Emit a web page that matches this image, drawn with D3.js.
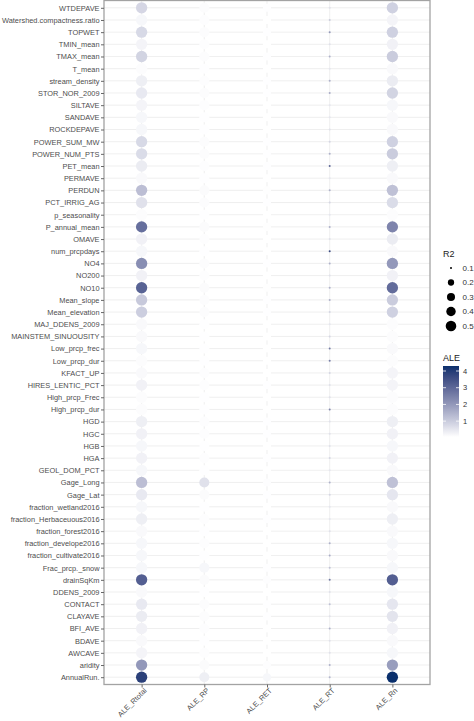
<!DOCTYPE html>
<html><head><meta charset="utf-8">
<script src="https://cdn.jsdelivr.net/npm/d3@7"></script>
<style>body{margin:0;background:#fff}svg{display:block}text{font-family:"Liberation Sans",Arial,sans-serif}</style>
</head><body>
<svg id="c" width="474" height="721"></svg>
<script>
const variables = ["WTDEPAVE","Watershed.compactness.ratio","TOPWET","TMIN_mean","TMAX_mean","T_mean","stream_density","STOR_NOR_2009","SILTAVE","SANDAVE","ROCKDEPAVE","POWER_SUM_MW","POWER_NUM_PTS","PET_mean","PERMAVE","PERDUN","PCT_IRRIG_AG","p_seasonality","P_annual_mean","OMAVE","num_prcpdays","NO4","NO200","NO10","Mean_slope","Mean_elevation","MAJ_DDENS_2009","MAINSTEM_SINUOUSITY","Low_prcp_frec","Low_prcp_dur","KFACT_UP","HIRES_LENTIC_PCT","High_prcp_Frec","High_prcp_dur","HGD","HGC","HGB","HGA","GEOL_DOM_PCT","Gage_Long","Gage_Lat","fraction_wetland2016","fraction_Herbaceuous2016","fraction_forest2016","fraction_develope2016","fraction_cultivate2016","Frac_prcp._snow","drainSqKm","DDENS_2009","CONTACT","CLAYAVE","BFI_AVE","BDAVE","AWCAVE","aridity","AnnualRun."];
const models = ["ALE_Rtotal","ALE_RP","ALE_RET","ALE_RT","ALE_Rn"];
const r2 = [0.57, 0.45, 0.30, 0.10, 0.57];
const aleRtotal = [0.8,0.2,0.75,0.25,0.85,0.1,0.35,0.45,0.25,0.2,0.2,0.75,0.7,0.4,0.15,1.25,0.6,0.1,2.85,0.3,0.2,2.2,0.3,3.1,1.05,0.95,0.15,0.15,0.2,0.1,0.15,0.3,0.1,0.1,0.35,0.3,0.2,0.3,0.2,1.25,0.45,0.2,0.35,0.15,0.2,0.2,0.2,3.2,0.15,0.45,0.4,0.3,0.15,0.25,2.0,3.9];
const aleRP = [0.1,0.08,0.1,0.08,0.1,0.06,0.08,0.1,0.08,0.06,0.06,0.1,0.1,0.08,0.06,0.12,0.1,0.06,0.12,0.08,0.06,0.1,0.08,0.12,0.1,0.1,0.06,0.06,0.06,0.06,0.08,0.08,0.06,0.06,0.08,0.08,0.06,0.08,0.06,0.6,0.12,0.06,0.08,0.06,0.08,0.06,0.2,0.12,0.06,0.1,0.1,0.08,0.06,0.08,0.12,0.35];
const aleRET = [0.06,0.05,0.06,0.05,0.06,0.05,0.06,0.06,0.05,0.05,0.05,0.06,0.06,0.06,0.05,0.07,0.06,0.05,0.07,0.05,0.05,0.06,0.05,0.07,0.06,0.06,0.05,0.05,0.05,0.05,0.05,0.06,0.05,0.05,0.06,0.06,0.05,0.06,0.05,0.08,0.06,0.05,0.06,0.05,0.05,0.05,0.06,0.08,0.05,0.06,0.06,0.05,0.05,0.05,0.08,0.2];
const aleRT = [0.6,1.0,2.0,0.6,1.5,0.5,1.5,1.6,0.5,0.5,0.6,0.8,1.5,3.0,0.5,1.5,0.8,0.5,1.5,0.6,3.6,1.5,0.6,1.5,1.5,0.8,0.5,0.8,2.6,2.5,0.8,0.6,0.6,2.4,0.6,0.6,0.6,0.8,0.5,1.5,0.8,0.5,0.5,0.6,1.5,1.6,1.2,2.6,0.6,1.2,0.6,1.5,0.6,0.6,1.5,1.4];
const aleRn = [0.9,0.25,0.9,0.3,1.0,0.15,0.4,0.85,0.2,0.15,0.15,0.9,1.0,0.35,0.15,1.2,0.7,0.1,2.4,0.4,0.15,2.0,0.3,2.9,1.0,0.9,0.1,0.1,0.15,0.1,0.25,0.25,0.1,0.1,0.35,0.3,0.2,0.3,0.15,1.2,0.5,0.15,0.35,0.15,0.2,0.15,0.2,3.2,0.2,0.5,0.55,0.3,0.15,0.2,1.9,4.3];
const r2Breaks = [0.1,0.2,0.3,0.4,0.5];
const r2Labels = ["0.1","0.2","0.3","0.4","0.5"];
const aleBreaks = [1,2,3,4];

const aleSeries = [aleRtotal, aleRP, aleRET, aleRT, aleRn];
const points = [];
models.forEach((m,j)=>variables.forEach((v,i)=>points.push({model:m, variable:v, r2:r2[j], ale:aleSeries[j][i]})));

const svg = d3.select("#c");
const P = {l:104, r:430, t:0.5, b:684.5};
const x = d3.scalePoint().domain(models).range([P.l,P.r]).padding(0.6);
const y = d3.scalePoint().domain(variables).range([P.t,P.b]).padding(0.6);
const aleDom = [0.05, 4.3];
const color = d3.scaleLinear().domain(aleDom).range(["#ffffff","#0a2f6c"]).interpolate(d3.interpolateLab).clamp(true);
const rs = v => 1 + 4.7*Math.sqrt(Math.max(0,(v-0.1))/(0.58-0.1));

// grid
svg.append("g").selectAll("line").data(variables).join("line")
  .attr("x1",P.l).attr("x2",P.r).attr("y1",d=>y(d)).attr("y2",d=>y(d))
  .attr("stroke","#e8e8e8").attr("stroke-width",0.7);
svg.append("g").selectAll("line").data(models).join("line")
  .attr("y1",P.t).attr("y2",P.b).attr("x1",d=>x(d)).attr("x2",d=>x(d))
  .attr("stroke","#e8e8e8").attr("stroke-width",0.7);

// points
svg.append("g").selectAll("circle").data(points).join("circle")
  .attr("cx",d=>x(d.model)).attr("cy",d=>y(d.variable))
  .attr("r",d=>rs(d.r2)).attr("fill",d=>color(d.ale));

// border
svg.append("rect").attr("x",P.l).attr("y",P.t).attr("width",P.r-P.l).attr("height",P.b-P.t)
  .attr("fill","none").attr("stroke","#a3a3a3").attr("stroke-width",1.3);

// y axis
const ya = svg.append("g").attr("transform",`translate(${P.l},0)`)
  .call(d3.axisLeft(y).tickSize(3).tickPadding(1.5));
ya.select(".domain").remove();
ya.selectAll("line").attr("stroke","#666");
ya.selectAll("text").attr("fill","#4d4d4d").style("font-size","7.4px");

// x axis
const xa = svg.append("g").attr("transform",`translate(0,${P.b})`)
  .call(d3.axisBottom(x).tickSize(3).tickPadding(2));
xa.select(".domain").remove();
xa.selectAll("line").attr("stroke","#666");
xa.selectAll("text").attr("fill","#4d4d4d").style("font-size","7.4px")
  .attr("text-anchor","end").attr("x",0).attr("y",0).attr("dy",0)
  .attr("transform","translate(5,6.5) rotate(-45)");

// R2 legend
const lg = svg.append("g");
lg.append("text").attr("x",443).attr("y",256.5).text("R2").style("font-size","9px").attr("fill","#1a1a1a");
r2Breaks.forEach((b,i)=>{
  const cy = 268 + i*14.5;
  lg.append("circle").attr("cx",451).attr("cy",cy).attr("r",rs(b)).attr("fill","#000");
  lg.append("text").attr("x",462.5).attr("y",cy).attr("dy","0.35em").text(r2Labels[i]).style("font-size","8px").attr("fill","#333");
});

// ALE colorbar
const bx=443, bw=16, by0=366, by1=437;
lg.append("text").attr("x",443).attr("y",361).text("ALE").style("font-size","9px").attr("fill","#1a1a1a");
const defs = svg.append("defs");
const grad = defs.append("linearGradient").attr("id","g").attr("x1",0).attr("x2",0).attr("y1",1).attr("y2",0);
d3.range(0,1.0001,0.05).forEach(t=>grad.append("stop").attr("offset",t).attr("stop-color",color(aleDom[0]+t*(aleDom[1]-aleDom[0]))));
lg.append("rect").attr("x",bx).attr("y",by0).attr("width",bw).attr("height",by1-by0).attr("fill","url(#g)");
const cb = d3.scaleLinear().domain(aleDom).range([by1,by0]);
aleBreaks.forEach(b=>{
  const yy = cb(b);
  lg.append("line").attr("x1",bx).attr("x2",bx+3).attr("y1",yy).attr("y2",yy).attr("stroke","#fff").attr("stroke-width",0.8);
  lg.append("line").attr("x1",bx+bw-3).attr("x2",bx+bw).attr("y1",yy).attr("y2",yy).attr("stroke","#fff").attr("stroke-width",0.8);
  lg.append("text").attr("x",bx+bw+4).attr("y",yy).attr("dy","0.35em").text(b).style("font-size","7.5px").attr("fill","#333");
});
</script>
</body></html>
